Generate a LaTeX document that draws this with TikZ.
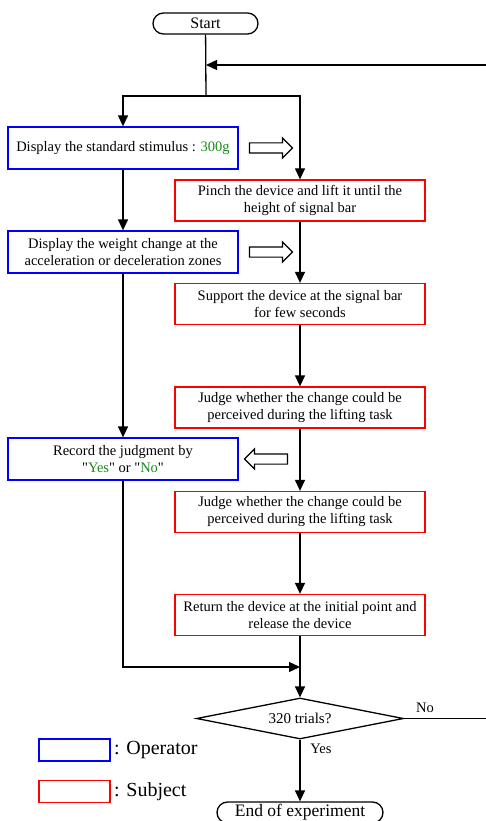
\documentclass[tikz,border=0pt]{standalone}
\usepackage{fontspec}
\setmainfont{Liberation Serif}
\usepackage{xcolor}
\usetikzlibrary{shapes.geometric,shapes.misc,shapes.arrows,arrows.meta}
\definecolor{operator}{RGB}{0,0,255}
\definecolor{subject}{RGB}{255,0,0}
\definecolor{answer}{RGB}{20,140,20}

\tikzset{
  box/.style = {draw, line width=1.3pt, align=center, inner sep=0pt,
                font=\fontsize{14.5}{17}\selectfont},
  opbox/.style = {box, draw=operator, minimum width=230pt, minimum height=42pt},
  subbox/.style = {box, draw=subject, minimum width=250pt, minimum height=41pt},
  term/.style = {draw, line width=1.3pt, rounded rectangle, inner sep=0pt},
  arr/.style = {line width=1.3pt, -{Triangle[length=11pt,width=10pt]}},
  hollow/.style = {draw, line width=1.2pt, single arrow, inner sep=4.5pt,
                   single arrow head extend=5pt, minimum height=43pt}
}

\begin{document}
\begin{tikzpicture}[x=1pt,y=-1pt]
  \useasboundingbox (0,0) rectangle (486,821);

  \node[term, minimum width=105pt, minimum height=21pt, font=\fontsize{16}{18}\selectfont]
    (start) at (205.5,23.5) {Start};

  \node[opbox] (ob1) at (123,148) {Display the standard stimulus : \textcolor{answer}{300g}};
  \node[opbox] (ob2) at (123,252) {Display the weight change at the\\acceleration or deceleration zones};
  \node[opbox] (ob3) at (123,459) {Record the judgment by\\\textquotedbl\textcolor{answer}{Yes}\textquotedbl{} or \textquotedbl\textcolor{answer}{No}\textquotedbl};

  \node[subbox] (sb1) at (300,200.5) {Pinch the device and lift it until the\\height of signal bar};
  \node[subbox] (sb2) at (300,304) {Support the device at the signal bar\\for few seconds};
  \node[subbox] (sb3) at (300,407.5) {Judge whether the change could be\\perceived during the lifting task};
  \node[subbox] (sb4) at (300,512) {Judge whether the change could be\\perceived during the lifting task};
  \node[subbox] (sb5) at (300,615) {Return the device at the initial point and\\release the device};

  \node[draw, diamond, line width=1.3pt, inner sep=0pt, minimum width=207pt, minimum height=41pt]
    (dec) at (300,718.5) {};
  \node[font=\fontsize{15}{17}\selectfont] (dectext) at (dec) {320 trials?};
  \node[term, minimum width=166pt, minimum height=21pt, font=\fontsize{17.5}{19}\selectfont]
    (end) at (300,812.5) {End of experiment};

  % hollow arrows between operator and subject
  \node[hollow] (ha1) at (268.5,148) {};
  \node[hollow] (ha2) at (268.5,252) {};
  \node[hollow, shape border rotate=180] (ha3) at (268.5,459) {};

  \coordinate (loop) at (206,65);
  \coordinate (split) at (206,96);
  \coordinate (merge) at (300,667);
  \coordinate (back) at (490,718.5);

  \draw[line width=1.3pt] (start) -- (split);
  \draw[arr] (split) -| (ob1);
  \draw[arr] (split) -| (sb1);
  \draw[arr] (ob1) -- (ob2);
  \draw[arr] (ob2) -- (ob3);
  \draw[arr] (ob3) |- (merge);
  \draw[arr] (sb1) -- (sb2);
  \draw[arr] (sb2) -- (sb3);
  \draw[arr] (sb3) -- (sb4);
  \draw[arr] (sb4) -- (sb5);
  \draw[arr] (sb5) -- (dec);
  \draw[arr] (dec) -- (end);
  \draw[arr] (dec.east) -- (back) |- (loop);

  \node[font=\fontsize{14.5}{16}\selectfont] (no) at (425,708) {No};
  \node[font=\fontsize{14.5}{16}\selectfont] (yes) at (321,749) {Yes};

  % legend
  \node[draw=operator, line width=1.3pt, minimum width=71pt, minimum height=22pt] (lop) at (74.5,750) {};
  \node[anchor=west, font=\fontsize{20}{22}\selectfont] (lopt) at (lop.east) {: Operator};
  \node[draw=subject, line width=1.3pt, minimum width=71pt, minimum height=22pt] (lsb) at (74.5,791.5) {};
  \node[anchor=west, font=\fontsize{20}{22}\selectfont] (lsbt) at (lsb.east) {: Subject};
\end{tikzpicture}
\end{document}
